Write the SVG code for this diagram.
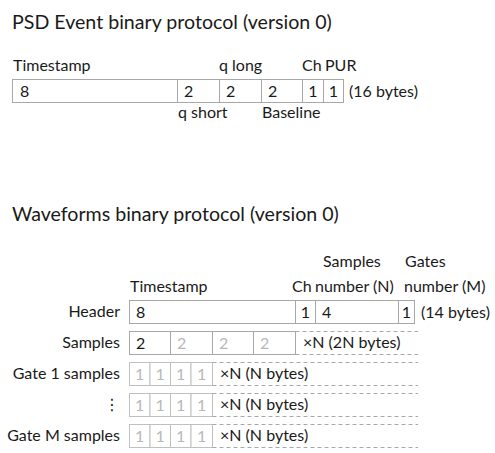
<svg xmlns="http://www.w3.org/2000/svg" width="495" height="453" viewBox="0 0 495 453">
  <style>
    text { font-family: Lato, "Noto Sans", "DejaVu Sans", sans-serif; fill: #1a1a1a; }
    .title { font-size: 19.6px; }
    .lbl { font-size: 16px; }
    .num { font-size: 16px; }
    .mid { text-anchor: middle; }
    .end { text-anchor: end; }
    .ghost { fill: #b8b8b8; }
    .cell { fill: #ffffff; stroke: #a8a8a8; stroke-width: 1; }
    .gcell { fill: #ffffff; stroke: #c0c0c0; stroke-width: 1; }
    .dash { stroke: #a8a8a8; stroke-width: 1; stroke-dasharray: 4 3; fill: none; }
  </style>

  <!-- PSD event layout -->
  <text class="title" x="12" y="29">PSD Event binary protocol (version 0)</text>

  <g id="psd-event">
    <text class="lbl" x="13" y="71">Timestamp</text>
    <text class="lbl" x="219" y="71">q long</text>
    <text class="lbl" x="302" y="71">Ch</text>
    <text class="lbl" x="325" y="71">PUR</text>

    <rect class="cell" x="12.5" y="79.5" width="165" height="23"/>
    <rect class="cell" x="177.5" y="79.5" width="42" height="23"/>
    <rect class="cell" x="219.5" y="79.5" width="42" height="23"/>
    <rect class="cell" x="261.5" y="79.5" width="41" height="23"/>
    <rect class="cell" x="302.5" y="79.5" width="21" height="23"/>
    <rect class="cell" x="323.5" y="79.5" width="20" height="23"/>

    <text class="num" x="20" y="97">8</text>
    <text class="num" x="184" y="97">2</text>
    <text class="num" x="226" y="97">2</text>
    <text class="num" x="268" y="97">2</text>
    <text class="num mid" x="313" y="97">1</text>
    <text class="num mid" x="333.5" y="97">1</text>
    <text class="lbl" x="349" y="97">(16 bytes)</text>

    <text class="lbl" x="178" y="118">q short</text>
    <text class="lbl" x="262" y="118">Baseline</text>
  </g>

  <!-- Waveforms layout -->
  <text class="title" x="12" y="221">Waveforms binary protocol (version 0)</text>

  <g id="wf-header">
    <text class="lbl" x="323" y="267">Samples</text>
    <text class="lbl" x="405" y="267">Gates</text>
    <text class="lbl" x="130" y="292">Timestamp</text>
    <text class="lbl" x="292" y="292">Ch</text>
    <text class="lbl" x="315" y="292">number (N)</text>
    <text class="lbl" x="404" y="292">number (M)</text>

    <text class="lbl end" x="120" y="317">Header</text>
    <rect class="cell" x="129.5" y="300.5" width="166" height="23"/>
    <rect class="cell" x="295.5" y="300.5" width="20" height="23"/>
    <rect class="cell" x="315.5" y="300.5" width="83" height="23"/>
    <rect class="cell" x="398.5" y="300.5" width="16" height="23"/>
    <text class="num" x="136" y="318">8</text>
    <text class="num mid" x="305.5" y="318">1</text>
    <text class="num" x="322" y="318">4</text>
    <text class="num mid" x="406.5" y="318">1</text>
    <text class="lbl" x="421" y="318">(14 bytes)</text>
  </g>

  <g id="wf-samples">
    <text class="lbl end" x="120" y="348">Samples</text>
    <rect class="cell" x="129.5" y="331.5" width="41" height="23"/>
    <rect class="cell" x="170.5" y="331.5" width="42" height="23"/>
    <rect class="cell" x="212.5" y="331.5" width="41" height="23"/>
    <rect class="cell" x="253.5" y="331.5" width="42" height="23"/>
    <text class="num" x="136" y="349">2</text>
    <text class="num ghost" x="177" y="349">2</text>
    <text class="num ghost" x="219" y="349">2</text>
    <text class="num ghost" x="260" y="349">2</text>
    <text class="lbl" x="303" y="348">×N (2N bytes)</text>
  </g>

  <g id="wf-gate-1">
    <text class="lbl end" x="120" y="379">Gate 1 samples</text>
    <rect class="gcell" x="129.5" y="362.5" width="20.5" height="23"/>
    <rect class="gcell" x="150" y="362.5" width="20.5" height="23"/>
    <rect class="gcell" x="170.5" y="362.5" width="20.5" height="23"/>
    <rect class="gcell" x="191" y="362.5" width="21.5" height="23"/>
    <text class="num mid ghost" x="139.75" y="380">1</text>
    <text class="num mid ghost" x="160.25" y="380">1</text>
    <text class="num mid ghost" x="180.75" y="380">1</text>
    <text class="num mid ghost" x="201.75" y="380">1</text>
    <text class="lbl" x="220" y="379">×N (N bytes)</text>
  </g>

  <g id="wf-gate-dots">
    <text class="lbl end" x="120" y="410">⋮</text>
    <rect class="gcell" x="129.5" y="393.5" width="20.5" height="23"/>
    <rect class="gcell" x="150" y="393.5" width="20.5" height="23"/>
    <rect class="gcell" x="170.5" y="393.5" width="20.5" height="23"/>
    <rect class="gcell" x="191" y="393.5" width="21.5" height="23"/>
    <text class="num mid ghost" x="139.75" y="411">1</text>
    <text class="num mid ghost" x="160.25" y="411">1</text>
    <text class="num mid ghost" x="180.75" y="411">1</text>
    <text class="num mid ghost" x="201.75" y="411">1</text>
    <text class="lbl" x="220" y="410">×N (N bytes)</text>
  </g>

  <g id="wf-gate-m">
    <text class="lbl end" x="120" y="441">Gate M samples</text>
    <rect class="gcell" x="129.5" y="424.5" width="20.5" height="23"/>
    <rect class="gcell" x="150" y="424.5" width="20.5" height="23"/>
    <rect class="gcell" x="170.5" y="424.5" width="20.5" height="23"/>
    <rect class="gcell" x="191" y="424.5" width="21.5" height="23"/>
    <text class="num mid ghost" x="139.75" y="442">1</text>
    <text class="num mid ghost" x="160.25" y="442">1</text>
    <text class="num mid ghost" x="180.75" y="442">1</text>
    <text class="num mid ghost" x="201.75" y="442">1</text>
    <text class="lbl" x="220" y="441">×N (N bytes)</text>
  </g>

  <!-- repeated-tail dashed rails -->
  <g id="rails">
    <path class="dash" d="M295.5 331.5H418 M295.5 354.5H418"/>
    <path class="dash" d="M212.5 362.5H418 M212.5 385.5H418"/>
    <path class="dash" d="M212.5 393.5H418 M212.5 416.5H418"/>
    <path class="dash" d="M212.5 424.5H418 M212.5 447.5H418"/>
  </g>
</svg>
